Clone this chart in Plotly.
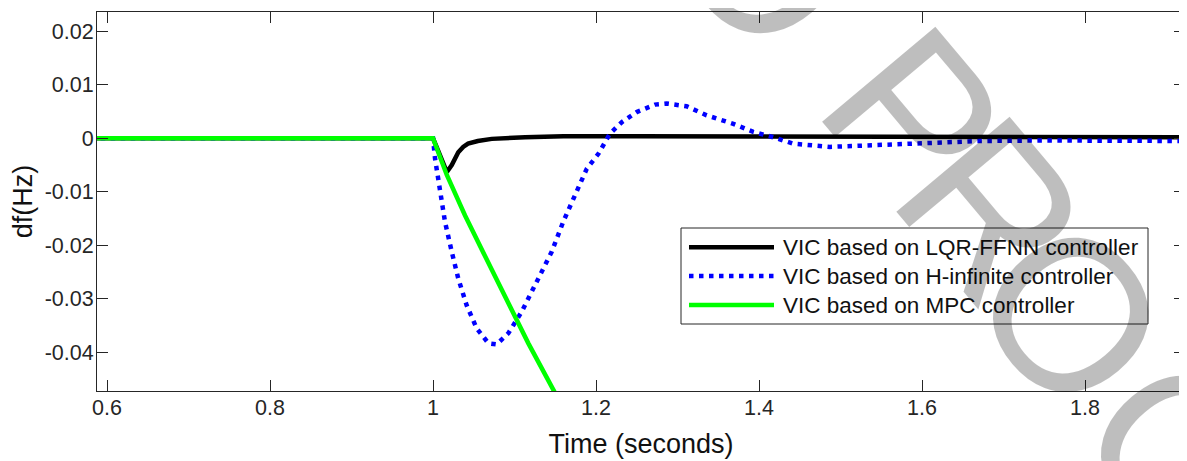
import plotly.graph_objects as go

# ---------------- data ----------------
lqr_t = [0.58, 1.0, 1.006, 1.012, 1.017, 1.023, 1.031, 1.037, 1.043, 1.055, 1.072,
         1.113, 1.16, 1.25, 1.35, 1.45, 1.6, 1.75, 1.93]
lqr_df = [0.0, 0.0, -0.0022, -0.0043, -0.0063, -0.0050, -0.0026, -0.0016, -0.0010, -0.0005, -0.0001,
          0.0002, 0.0004, 0.0004, 0.0004, 0.0003, 0.0003, 0.0002, 0.0002]

hinf_t = [0.58, 1.0, 1.0025, 1.0086, 1.0147, 1.023, 1.031, 1.0413, 1.0536, 1.068, 1.078,
          1.0925, 1.1088, 1.1252, 1.1456, 1.160, 1.1886, 1.2029, 1.2172, 1.2315, 1.2499,
          1.2724, 1.2867, 1.311, 1.3358, 1.3685, 1.393, 1.4176, 1.442, 1.487, 1.528,
          1.589, 1.671, 1.75, 1.834, 1.93]
hinf_df = [0.0, 0.0, -0.0038, -0.0100, -0.0156, -0.0212, -0.0262, -0.0312, -0.0355, -0.0383, -0.0385,
           -0.0364, -0.0324, -0.0274, -0.0212, -0.0155, -0.0057, -0.0029, 0.0009, 0.0030, 0.0049,
           0.0063, 0.0065, 0.0060, 0.0043, 0.0027, 0.0012, 0.0002, -0.0010, -0.0016, -0.0014,
           -0.0009, -0.0005, -0.0004, -0.0004, -0.0005]

mpc_t = [0.58, 1.0, 1.0168, 1.0393, 1.0638, 1.0883, 1.117, 1.1477, 1.16]
mpc_df = [0.0, 0.0, -0.0068, -0.0144, -0.0220, -0.0297, -0.0383, -0.0470, -0.0504]

series_names = ["VIC based on LQR-FFNN controller",
                "VIC based on H-infinite controller",
                "VIC based on MPC controller"]

x_tickvals = [0.6, 0.8, 1.0, 1.2, 1.4, 1.6, 1.8]
x_ticktext = ["0.6", "0.8", "1", "1.2", "1.4", "1.6", "1.8"]
y_tickvals = [0.02, 0.01, 0.0, -0.01, -0.02, -0.03, -0.04]
y_ticktext = ["0.02", "0.01", "0", "-0.01", "-0.02", "-0.03", "-0.04"]

x_title = "Time (seconds)"
y_title = "df(Hz)"
watermark_parts = ["O", "P", "R", "O", "O", "F"]

# ---------------- styles ----------------
FONT = "Liberation Sans, Arial, sans-serif"
AX = "#262626"
colors = ["#000000", "#0000ff", "#00ff00"]
dashes = ["solid", "4.5px,5.5px", "solid"]
widths = [4.5, 4.5, 4.5]

# the page body has an 8px default margin, so the figure is drawn 8px in
OFF = 8
W, H = 1187 - OFF, 461 - OFF
PL, PR, PT, PB = 97, 1185, 12, 391          # plot area in window pixels

fig = go.Figure()
for t, v, name, c, d, w in zip([lqr_t, hinf_t, mpc_t], [lqr_df, hinf_df, mpc_df],
                               series_names, colors, dashes, widths):
    fig.add_trace(go.Scatter(x=t, y=v, mode="lines", name=name, showlegend=False,
                             line=dict(color=c, width=w, dash=d)))

axis_common = dict(ticks="inside", ticklen=11, tickwidth=1, tickcolor=AX,
                   showline=True, linecolor=AX, linewidth=1, mirror="ticks",
                   showgrid=False, zeroline=False, automargin=False,
                   tickfont=dict(family=FONT, size=21.5, color=AX))

fig.update_layout(
    width=W, height=H,
    margin=dict(l=PL - OFF, r=1187 - PR, t=PT - OFF, b=461 - PB, autoexpand=False),
    paper_bgcolor="white", plot_bgcolor="white",
    font=dict(family=FONT, color=AX),
    xaxis=dict(range=[0.5877, 1.9227], tickvals=x_tickvals, ticktext=x_ticktext,
               ticklabelstandoff=-3,
               title=dict(text=x_title, font=dict(family=FONT, size=27, color="#111"), standoff=15),
               **axis_common),
    yaxis=dict(range=[-0.0472, 0.0236], tickvals=y_tickvals, ticktext=y_ticktext,
               ticklabelstandoff=-2,
               title=dict(text=y_title, font=dict(family=FONT, size=27, color="#111"), standoff=7),
               **axis_common),
)

# ---------------- custom legend (box, samples, labels) ----------------
def px_x(p):
    return (p - PL) / float(PR - PL)

def px_y(p):
    return (PB - p) / float(PB - PT)

fig.add_shape(type="rect", xref="paper", yref="paper",
              x0=px_x(681), x1=px_x(1148), y0=px_y(324), y1=px_y(228),
              line=dict(color=AX, width=1), fillcolor="white", layer="above")
leg_rows = [247.3, 276.0, 305.0]
for name, c, d, w, yy in zip(series_names, colors, dashes, widths, leg_rows):
    fig.add_shape(type="line", xref="paper", yref="paper",
                  x0=px_x(689), x1=px_x(774), y0=px_y(yy), y1=px_y(yy),
                  line=dict(color=c, width=w, dash=d))
    fig.add_annotation(text=name, xref="paper", yref="paper", x=px_x(781), y=px_y(yy),
                       xanchor="left", yanchor="middle", showarrow=False,
                       font=dict(family=FONT, size=22.5, color="#111"))

# ---------------- watermark (rotated grey letters) ----------------
wm_centers = [(768, -26), (917, 133), (996, 227), (1075, 332), (1183, 470), (1279, 584)]
WM_DX, WM_DY = -4, -18      # rendering offset correction of rotated text
for txt, (cx, cy) in zip(watermark_parts, wm_centers):
    fig.add_annotation(text=txt, xref="paper", yref="paper",
                       x=px_x(cx + WM_DX), y=px_y(cy + WM_DY),
                       xanchor="center", yanchor="middle",
                       showarrow=False, textangle=50,
                       font=dict(family=FONT, size=215, color="rgba(0,0,0,0.255)"))

fig.write_html("out.html")
